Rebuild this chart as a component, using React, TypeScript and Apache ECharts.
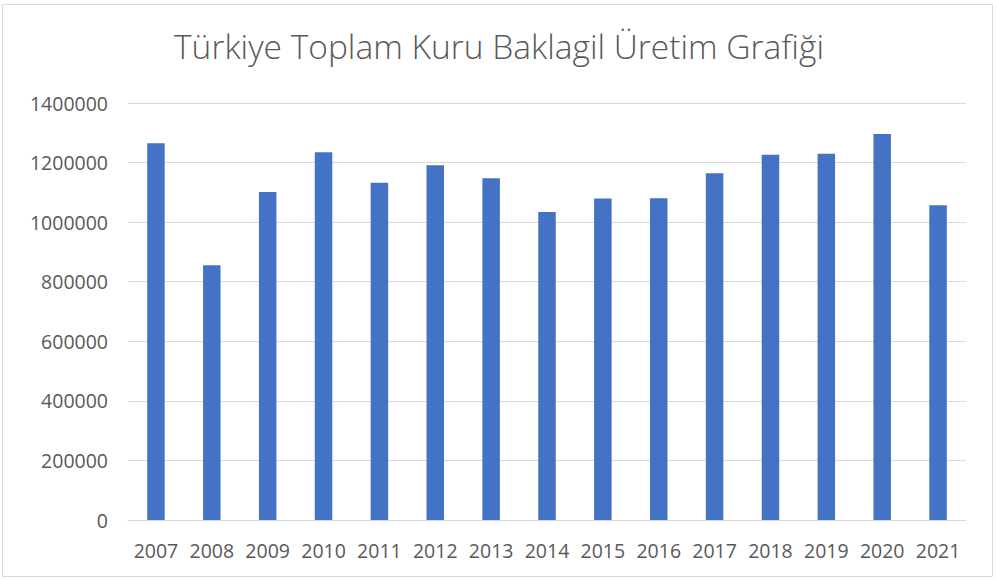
import React, { useEffect, useRef } from "react";
import * as echarts from "echarts";

const categories = ["2007","2008","2009","2010","2011","2012","2013","2014","2015","2016","2017","2018","2019","2020","2021"];
const production = [1265000, 855000, 1101000, 1235000, 1132000, 1191000, 1147000, 1034000, 1079000, 1080000, 1164000, 1226000, 1230000, 1296000, 1057000];
const title = "Türkiye Toplam Kuru Baklagil Üretim Grafiği";

export default function App() {
  const ref = useRef<HTMLDivElement>(null);
  useEffect(() => {
    document.body.style.margin = "0";
    const chart = echarts.init(ref.current!, null, { renderer: "svg" });
    chart.setOption({
      animation: false,
      backgroundColor: "#ffffff",
      title: {
        text: title,
        left: "center",
        top: 24,
        textStyle: { fontFamily: "Open Sans", fontWeight: 300, fontSize: 33.5, color: "#595959" },
      },
      graphic: [
        { type: "rect", shape: { x: 2.5, y: 4.5, width: 990, height: 572 }, style: { fill: "none", stroke: "#D9D9D9", lineWidth: 1 }, silent: true },
      ],
      grid: { left: 128, right: 32, top: 103, bottom: 60 },
      xAxis: {
        type: "category",
        data: categories,
        axisLine: { lineStyle: { color: "#D9D9D9", width: 1 } },
        axisTick: { show: false },
        axisLabel: { color: "#595959", fontSize: 19.5, fontFamily: "Open Sans", margin: 20, interval: 0 },
      },
      yAxis: {
        type: "value",
        min: 0,
        max: 1400000,
        interval: 200000,
        axisLine: { show: false },
        axisTick: { show: false },
        splitLine: { lineStyle: { color: "#D9D9D9", width: 1 } },
        axisLabel: { color: "#595959", fontSize: 19.5, fontFamily: "Open Sans", margin: 20, formatter: (v: number) => String(v) },
      },
      series: [
        {
          type: "bar",
          data: production,
          barWidth: 17.5,
          itemStyle: { color: "#4472C4" },
        },
      ],
    });
    return () => chart.dispose();
  }, []);
  return <div ref={ref} style={{ width: 998, height: 580 }} />;
}
